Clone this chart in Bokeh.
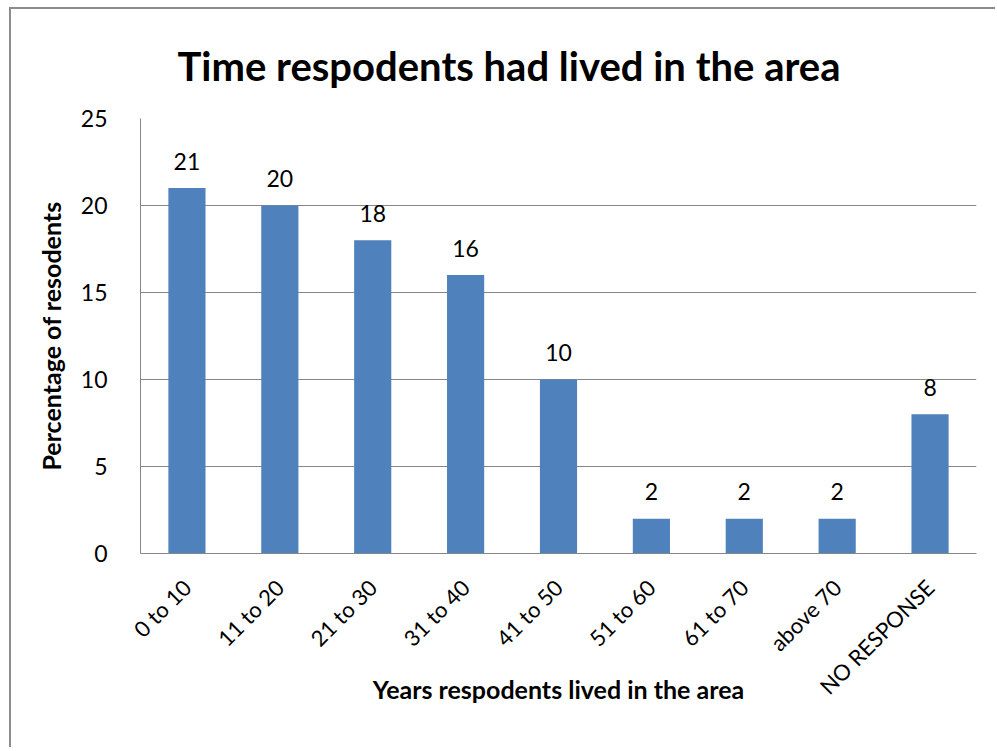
from bokeh.plotting import figure
from bokeh.models import ColumnDataSource, LabelSet, Title
from bokeh.core.properties import value
from bokeh.embed import file_html
from bokeh.resources import INLINE
import math

categories = ["0 to 10", "11 to 20", "21 to 30", "31 to 40", "41 to 50",
              "51 to 60", "61 to 70", "above 70", "NO RESPONSE"]
percentages = [21, 20, 18, 16, 10, 2, 2, 2, 8]
y_ticks = [0, 5, 10, 15, 20, 25]

FONT = "Lato"
GRID = "#868686"
BAR = "#4F81BD"

source = ColumnDataSource(data=dict(cat=categories, val=percentages,
                                    lbl=[str(v) for v in percentages]))

p = figure(x_range=categories, y_range=(0, 25), width=986, height=740,
           output_backend="svg", toolbar_location=None,
           min_border_left=129, min_border_right=21,
           min_border_top=109, min_border_bottom=196)
p.styles = {"margin-left": "9px", "margin-top": "7px",
            "border-left": "2px solid #8c8c8c", "border-top": "2px solid #8c8c8c"}

p.vbar(x="cat", top="val", width=0.4, source=source, color=BAR, line_color=None)

labels = LabelSet(x="cat", y="val", text="lbl", source=source, y_offset=27,
                  text_align="center", text_baseline="middle",
                  text_font=value(FONT), text_font_size="23px", text_color="#000000")
p.add_layout(labels)

title = Title(text="Time respodents had lived in the area", align="left",
              text_font=FONT, text_font_size="40px", text_font_style="bold",
              text_color="#000000", offset=37, standoff=58)
p.add_layout(title, "above")
p.title.text = ""

p.outline_line_color = None
p.background_fill_color = "white"
p.border_fill_color = "white"

p.xgrid.grid_line_color = None
p.ygrid.grid_line_color = GRID
p.ygrid.grid_line_width = 1
p.yaxis.ticker = y_ticks

for ax in (p.xaxis, p.yaxis):
    ax.axis_line_color = GRID
    ax.major_tick_line_color = None
    ax.minor_tick_line_color = None
    ax.major_label_text_font = FONT
    ax.major_label_text_color = "#000000"
    ax.axis_label_text_font = FONT
    ax.axis_label_text_font_size = "25px"
    ax.axis_label_text_font_style = "bold"
    ax.axis_label_text_color = "#000000"

p.yaxis.major_label_text_font_size = "23px"
p.xaxis.major_label_text_font_size = "22px"

p.yaxis.axis_label = "Percentage of resodents"
p.yaxis.major_label_standoff = 27
p.yaxis.axis_label_standoff = 12

p.xaxis.axis_label = "Years respodents lived in the area"
p.xaxis.major_label_orientation = math.pi / 4
p.xaxis.major_label_standoff = 24
p.xaxis.axis_label_standoff = -38

open("out.html", "w").write(file_html(p, INLINE))
